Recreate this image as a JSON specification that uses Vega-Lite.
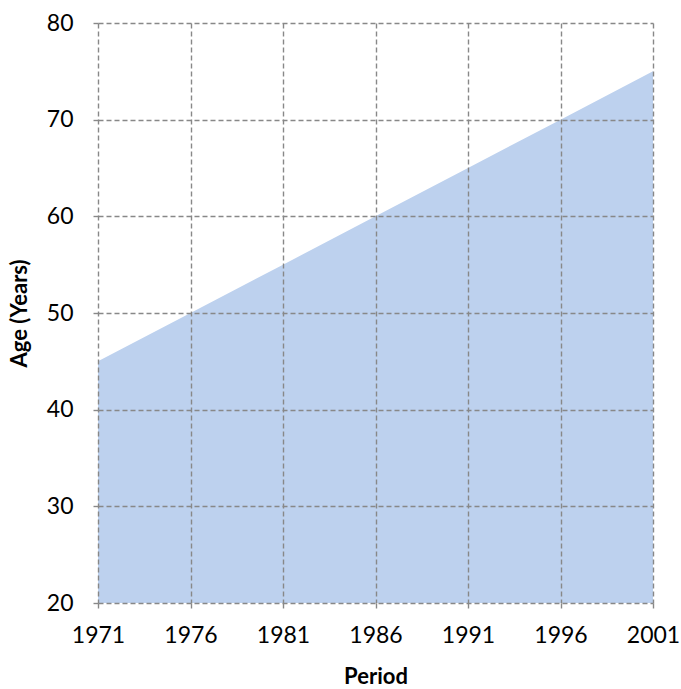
{
  "$schema": "https://vega.github.io/schema/vega-lite/v6.json",
  "width": 555,
  "height": 580,
  "padding": {"left": 98, "top": 23, "right": 28, "bottom": 86},
  "autosize": {"type": "none"},
  "config": {
    "view": {"stroke": null},
    "font": "Lato"
  },
  "data": {
    "values": [
      {"period": 1971, "age": 45},
      {"period": 1976, "age": 50},
      {"period": 1981, "age": 55},
      {"period": 1986, "age": 60},
      {"period": 1991, "age": 65},
      {"period": 1996, "age": 70},
      {"period": 2001, "age": 75}
    ]
  },
  "mark": {"type": "area", "color": "#bdd1ee", "opacity": 1},
  "encoding": {
    "x": {
      "field": "period",
      "type": "quantitative",
      "scale": {"domain": [1971, 2001], "nice": false, "zero": false},
      "axis": {
        "values": [1971, 1976, 1981, 1986, 1991, 1996, 2001],
        "format": "d",
        "title": "Period",
        "titleFont": "Lato",
        "titleFontSize": 22,
        "titleFontWeight": "bold",
        "titleColor": "#000",
        "titlePadding": 19,
        "labelFont": "Lato",
        "labelFontSize": 23,
        "labelColor": "#000",
        "labelPadding": 14,
        "labelFlush": false,
        "domain": false,
        "grid": true,
        "gridColor": "#888",
        "gridDash": [5, 3],
        "gridWidth": 1.4,
        "gridOpacity": 1,
        "ticks": true,
        "tickSize": 7,
        "tickColor": "#888",
        "tickDash": [5, 3],
        "tickWidth": 1.4,
        "zindex": 1
      }
    },
    "y": {
      "field": "age",
      "type": "quantitative",
      "scale": {"domain": [20, 80], "nice": false, "zero": false},
      "axis": {
        "values": [20, 30, 40, 50, 60, 70, 80],
        "title": "Age (Years)",
        "titleFont": "Lato",
        "titleFontSize": 22,
        "titleFontWeight": "bold",
        "titleColor": "#000",
        "titlePadding": 15,
        "labelFont": "Lato",
        "labelFontSize": 23,
        "labelColor": "#000",
        "labelPadding": 18,
        "domain": false,
        "grid": true,
        "gridColor": "#888",
        "gridDash": [5, 3],
        "gridWidth": 1.4,
        "gridOpacity": 1,
        "ticks": true,
        "tickSize": 7,
        "tickColor": "#888",
        "tickDash": [5, 3],
        "tickWidth": 1.4,
        "zindex": 1
      }
    },
    "y2": {"datum": 20}
  }
}
